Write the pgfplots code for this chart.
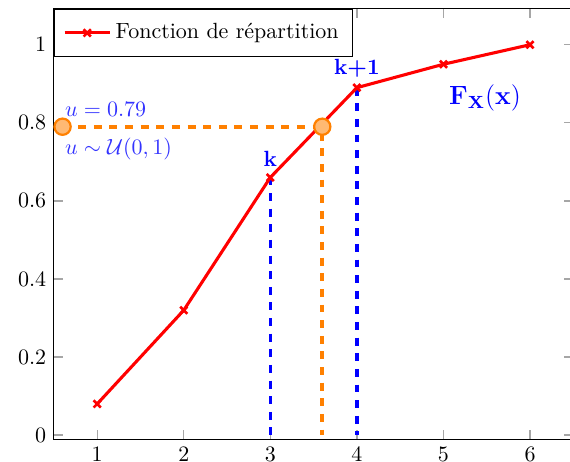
\documentclass[border=0pt]{standalone}
\usepackage{pgfplots}
\pgfplotsset{compat=1.18}

\begin{document}
\begin{tikzpicture}
\begin{axis}[
  name=ax,
  scale only axis,
  width=236pt, height=195.5pt,
  xmin=0.5, xmax=6.5,
  ymin=-0.01, ymax=1.092,
  xtick={1,2,3,4,5,6},
  ytick={0,0.2,0.4,0.6,0.8,1},
  major tick style={gray!70, semithick},
  legend style={at={(0,1)}, anchor=north west, draw=black,
    font=\normalsize, inner xsep=4pt, inner ysep=4.5pt},
  legend cell align=left,
  legend image code/.code={
    \draw[mark repeat=2, mark phase=2]
      plot coordinates {(0cm,0cm) (0.36cm,0cm) (0.72cm,0cm)};
  },
]
% inverse-transform guides
\addplot[blue, line width=1.5pt, dash pattern=on 3.6pt off 3.5pt, forget plot]
  coordinates {(3,0.66) (3,0)};
\addplot[blue, line width=1.5pt, dash pattern=on 3.6pt off 3.5pt, forget plot]
  coordinates {(4,0.89) (4,0)};

% cumulative distribution function
\addplot[red, line width=1.4pt, mark=x, mark size=2.3pt, mark options={solid, line width=1.2pt}]
  coordinates {(1,0.08) (2,0.32) (3,0.66) (4,0.89) (5,0.95) (6,1.0)};
\addlegendentry{Fonction de répartition}

% drawn uniform value u and its projection
\addplot[orange, line width=1.8pt, dash pattern=on 3.6pt off 3.5pt, forget plot]
  coordinates {(0.6,0.79) (3.6,0.79) (3.6,0)};
\addplot[only marks, mark=*, mark size=3.7pt,
  mark options={draw=orange, fill=orange!55, line width=1pt}, forget plot]
  coordinates {(0.6,0.79) (3.6,0.79)};

\node[anchor=base west, inner sep=0, text=blue!80] at (axis cs:0.625,0.815) {$u = 0.79$};
\node[anchor=base west, inner sep=0, text=blue!80] at (axis cs:0.625,0.718) {$u \sim \mathcal{U}(0,1)$};
\node[anchor=base, inner sep=0, text=blue] at (axis cs:3,0.687) {\textbf{k}};
\node[anchor=base, inner sep=0, text=blue] at (axis cs:4,0.923) {\textbf{k+1}};
\node[anchor=base, inner sep=0, text=blue] at (axis cs:5.48,0.846) {\large$\mathbf{F_X(x)}$};
\end{axis}
\pgfresetboundingbox
\path[use as bounding box]
  ([xshift=-24.5pt,yshift=-10pt]ax.south west) rectangle
  ([xshift=234.5pt,yshift=4pt]ax.north west);
\end{tikzpicture}
\end{document}
